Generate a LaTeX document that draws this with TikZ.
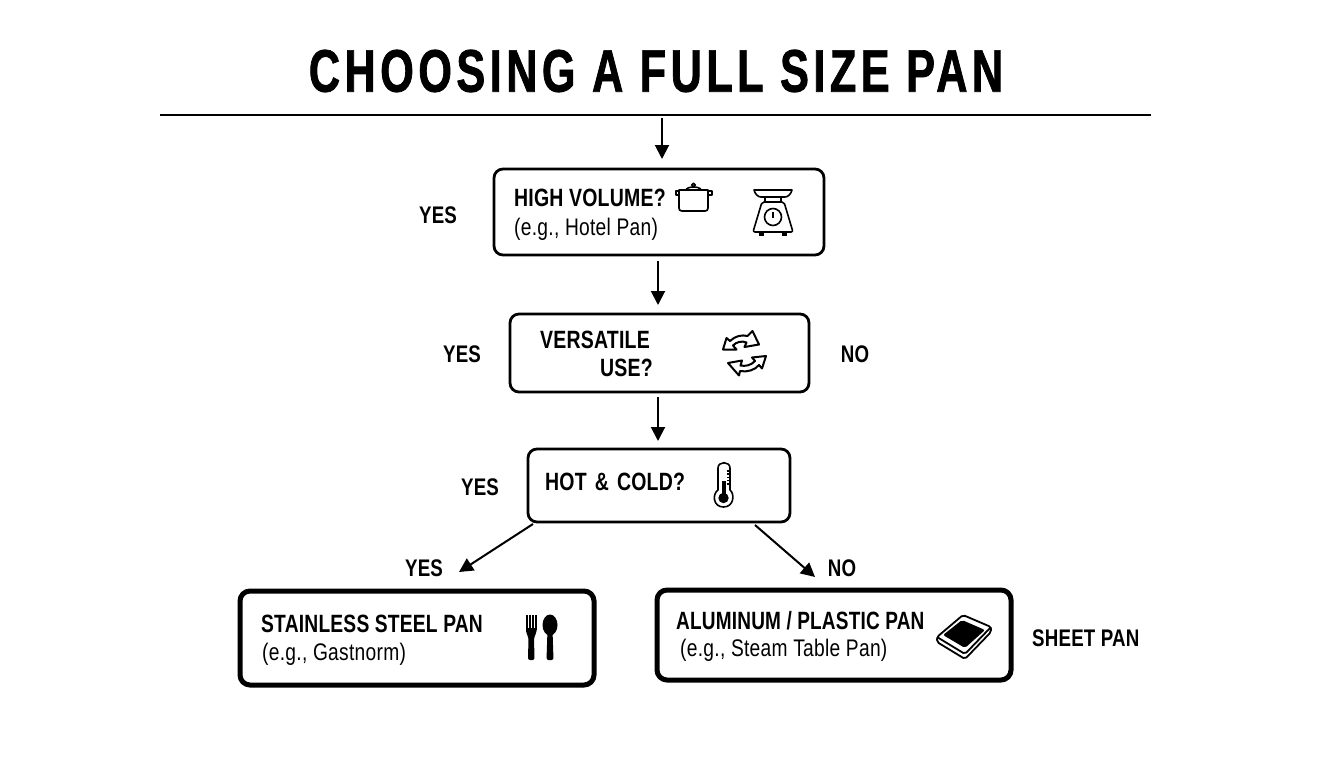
\documentclass[tikz,border=0pt]{standalone}
\usepackage{fontspec}
\usepackage{graphicx}
\setmainfont[FakeStretch=0.78,LetterSpace=0.8]{Liberation Sans}
\newfontfamily\titlefont[FakeStretch=0.72,LetterSpace=7.5,FakeBold=1.2]{Liberation Sans}
\newfontfamily\subfont[FakeStretch=0.80,LetterSpace=1.2]{Liberation Sans}
\usetikzlibrary{arrows.meta}
\tikzset{
  box/.style={draw=black,line width=2.8pt,rounded corners=9pt,fill=white,inner sep=0pt,outer sep=0pt,anchor=north west},
  result/.style={box,line width=5pt,rounded corners=10pt},
  flow/.style={draw=black,line width=2pt,-{Triangle[length=14pt,width=14pt]}},
  head/.style={font=\bfseries\fontsize{25}{28}\selectfont,anchor=west,inner sep=0pt},
  sub/.style={font=\subfont\fontsize{24}{28}\selectfont,anchor=west,inner sep=0pt},
  lab/.style={font=\bfseries\fontsize{24}{28}\selectfont,inner sep=0pt},
  icon/.style={line width=1.6pt,draw=black,line join=round},
}
\begin{document}
\begin{tikzpicture}[x=1pt,y=-1pt]
\useasboundingbox (0,0) rectangle (1344,768);
\node[inner sep=0pt,font=\titlefont\bfseries\fontsize{60}{64}\selectfont] (title) at (656,71) {CHOOSING A FULL SIZE PAN};
\coordinate (ruleL) at (160,115);
\coordinate (ruleR) at (1151,115);
\draw[line width=1.4pt] (ruleL) -- (ruleR);

\node[box,minimum width=330pt,minimum height=86pt] (b1) at (494,169) {};
\node[box,minimum width=299pt,minimum height=78pt] (b2) at (510,314) {};
\node[box,minimum width=262pt,minimum height=73pt] (b3) at (528,449) {};
\node[result,minimum width=354pt,minimum height=94pt] (b4) at (240,591) {};
\node[result,minimum width=354pt,minimum height=90pt] (b5) at (657,590) {};

\coordinate (start) at (662,118);
\coordinate (leftStart) at (533,524);
\coordinate (leftEnd) at (459,572);
\coordinate (rightStart) at (755,525);
\coordinate (rightEnd) at (815,577);
\draw[flow,shorten >=10pt] (start) -- (start |- b1.north);
\draw[flow,shorten <=6pt,shorten >=9pt] ([xshift=-1pt]b1.south) -- ([xshift=-1.5pt]b2.north);
\draw[flow,shorten <=5pt,shorten >=8pt] ([xshift=-1.5pt]b2.south) -- ([xshift=-1pt]b3.north);
\draw[flow] (leftStart) -- (leftEnd);
\draw[flow] (rightStart) -- (rightEnd);

\node[head] (t1) at (514,198) {HIGH VOLUME?};
\node[sub] (t1s) at (514,229) {(e.g., Hotel Pan)};
\node[head] (t2a) at (540,340) {VERSATILE};
\node[head] (t2b) at (600,368) {USE?};
\node[head] (t3) at (545,482) {HOT\hspace{2.5pt} \&\hspace{2.5pt} COLD?};
\node[head] (t4) at (261,624) {\scalebox{.987}[1]{STAINLESS STEEL PAN}};
\node[sub] (t4s) at (262,654) {(e.g., Gastnorm)};
\node[head] (t5) at (676,621) {\scalebox{.975}[1]{ALUMINUM / PLASTIC PAN}};
\node[sub] (t5s) at (680,650) {(e.g., Steam Table Pan)};

\node[lab] (y1) at (438,215) {YES};
\node[lab] (y2) at (462,354) {YES};
\node[lab] (n2) at (855,354) {NO};
\node[lab] (y3) at (480,487) {YES};
\node[lab] (y4) at (424,568) {YES};
\node[lab] (n4) at (842,568) {NO};
\node[lab,anchor=west] (sp) at (1032,638) {SHEET PAN};

% pot
\draw[icon] (679,190) -- (708,190) -- (708,208) .. controls (708,210) and (707,211) .. (705,211) -- (682,211) .. controls (680,211) and (679,210) .. (679,208) -- cycle;
\draw[icon] (686,190) .. controls (687,186) and (700,186) .. (701,190);
\draw[icon] (679,191) -- (676,191) -- (676,195) -- (679,195);
\draw[icon] (708,191) -- (712,191) -- (712,195) -- (708,195);
\draw[icon,fill=white] (693.5,185) circle (1.8pt);
% scale
\draw[icon] (754,190) -- (792,190) .. controls (791,194) and (788,197) .. (785,197) -- (761,197) .. controls (758,197) and (755,194) .. (754,190) -- cycle;
\draw[icon] (765,197) -- (765,202) (781,197) -- (781,202);
\draw[icon,rounded corners=2pt] (762,202) -- (784,202) -- (793,232) -- (753,232) -- cycle;
\draw[icon] (773,217) circle (8.5pt);
\draw[line width=1.2pt] (773,211.5) -- (773,218);
\fill (759,233) rectangle (764,235.5);
\fill (782,233) rectangle (787,235.5);
% cycle arrows
\draw[icon,line width=2pt,fill=white] (723,349.5) -- (726.5,338) -- (730,341) .. controls (735,336) and (742,334.5) .. (747.5,336) -- (752.5,331) -- (759,344.5) -- (744.5,347) -- (746.5,342.5) .. controls (742,340.5) and (736,342) .. (733,345.5) -- (736.5,349.5) -- cycle;
\draw[icon,line width=2pt,fill=white] (766,356) -- (752,357.5) -- (755,361) .. controls (751,365.5) and (745,366.5) .. (740.5,365.5) -- (742,360.5) -- (728,363) -- (739,375.5) -- (740,371) .. controls (747,372.5) and (755,370) .. (759,365) -- (762,368.5) -- cycle;
% thermometer
\draw[icon] (718,490) -- (718,468) .. controls (718,461) and (730,461) .. (730,468) -- (730,490) .. controls (735,494) and (734,507) .. (723.5,507) .. controls (713,507) and (712,494) .. (718,490) -- cycle;
\fill (723.5,498) circle (5.2pt);
\fill (721.5,481) rectangle (725.5,496);
\draw[line width=1.1pt,dash pattern=on 1.5pt off 1.8pt] (728,470) -- (728,486);
% fork
\fill (526,615) rectangle (527.5,630);
\fill (529,615) rectangle (530.5,630);
\fill (532,615) rectangle (533.5,630);
\fill (535,615) rectangle (536.5,630);
\fill[rounded corners=2pt] (526,628) -- (536.5,628) -- (536.5,633) -- (534,637) -- (534.5,660) -- (528,660) -- (528.5,637) -- (526,633) -- cycle;
% spoon
\fill (550,625) ellipse (7.5pt and 10.5pt);
\fill[rounded corners=2pt] (547.5,630) -- (552.5,630) -- (553.5,660) -- (546.5,660) -- cycle;
% sheet pan
\draw[icon,line width=1.8pt,rounded corners=2pt,fill=white] (937,642) -- (965,659) -- (991,632) -- (991,627) -- (963,615) -- (937,637) -- cycle;
\draw[icon,line width=1.8pt,rounded corners=2pt] (937,637) -- (965,654) -- (991,627);
\fill[rounded corners=2pt] (962,620) -- (985,630) -- (965,648) -- (943,635) -- cycle;
\end{tikzpicture}
\end{document}
